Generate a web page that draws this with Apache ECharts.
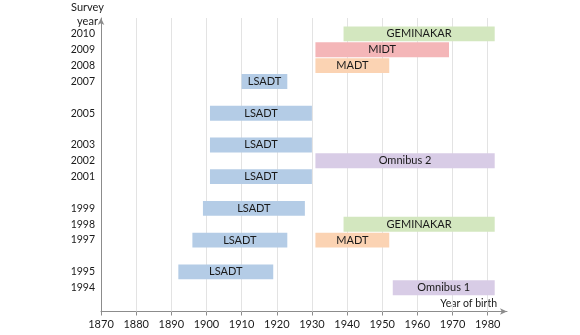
<!DOCTYPE html>
<html>
<head>
<meta charset="utf-8">
<script src="https://cdn.jsdelivr.net/npm/echarts@6/dist/echarts.min.js"></script>
<style>html,body{margin:0;padding:0;background:#fff}#c{width:580px;height:335px}</style>
</head>
<body>
<div id="c"></div>
<script>
// Survey year labels on the y axis
var surveyYearTicks = [2010, 2009, 2008, 2007, 2005, 2003, 2002, 2001, 1999, 1998, 1997, 1995, 1994];
// Birth year ticks on the x axis
var birthYearTicks = [1870, 1880, 1890, 1900, 1910, 1920, 1930, 1940, 1950, 1960, 1970, 1980];
var gridYears = [1880, 1890, 1900, 1910, 1920, 1930, 1940, 1950, 1960, 1970, 1980];

// One entry per survey bar
var study      = ['GEMINAKAR','MIDT','MADT','LSADT','LSADT','LSADT','Omnibus 2','LSADT','LSADT','GEMINAKAR','LSADT','MADT','LSADT','Omnibus 1'];
var surveyYear = [2010, 2009, 2008, 2007, 2005, 2003, 2002, 2001, 1999, 1998, 1997, 1997, 1995, 1994];
var birthFrom  = [1939, 1931, 1931, 1910, 1901, 1901, 1931, 1901, 1899, 1939, 1896, 1931, 1892, 1953];
var birthTo    = [1982, 1969, 1952, 1923, 1930, 1930, 1982, 1930, 1928, 1982, 1923, 1952, 1919, 1982];

var studyColor = {
  'LSADT': '#b4cce6',
  'GEMINAKAR': '#d3e7bf',
  'MIDT': '#f4b6b8',
  'MADT': '#fbd3b3',
  'Omnibus 1': '#d8cce6',
  'Omnibus 2': '#d8cce6'
};

var data = study.map(function (s, i) {
  return [birthFrom[i], birthTo[i], surveyYear[i], s];
});

var FONT = 'Lato';

function renderItem(params, api) {
  var a = api.coord([api.value(0), api.value(2)]);
  var b = api.coord([api.value(1), api.value(2)]);
  var h = api.size([0, 1])[1] * 0.94;
  var name = study[params.dataIndex];
  return {
    type: 'rect',
    shape: { x: a[0], y: a[1] - h / 2, width: b[0] - a[0], height: h },
    style: { fill: studyColor[name] },
    textContent: {
      style: { text: name, fill: '#1a1a1a', font: '11px ' + FONT }
    },
    textConfig: { position: 'inside' }
  };
}

var chart = echarts.init(document.getElementById('c'), null, { renderer: 'canvas' });
chart.setOption({
  animation: false,
  grid: { left: 101, right: 73, top: 18, bottom: 23.5, containLabel: false },
  xAxis: {
    type: 'value', min: 1870, max: 1985.5, interval: 10,
    name: 'Year of birth', nameLocation: 'end', nameGap: -10,
    nameTextStyle: { align: 'right', verticalAlign: 'bottom', padding: [0, 0, 2, 0], fontFamily: FONT, fontSize: 10.5, color: '#1a1a1a' },
    axisLine: { lineStyle: { color: '#8c8c8c' }, symbol: ['none', 'arrow'], symbolSize: [5, 7] },
    axisTick: { customValues: birthYearTicks, length: 4, lineStyle: { color: '#8c8c8c' } },
    axisLabel: { customValues: birthYearTicks, margin: 7, fontFamily: FONT, fontSize: 11, color: '#1a1a1a',
      formatter: function (v) { return String(v); } },
    splitLine: { show: false }
  },
  yAxis: {
    type: 'value', min: 1992.5, max: 2011,
    name: 'Survey\nyear', nameLocation: 'end', nameGap: -11,
    nameTextStyle: { align: 'center', verticalAlign: 'bottom', padding: [0, 27, 0, 0], lineHeight: 14, fontFamily: FONT, fontSize: 11, color: '#1a1a1a' },
    axisLine: { show: true, lineStyle: { color: '#8c8c8c' }, symbol: ['none', 'arrow'], symbolSize: [5, 7] },
    axisTick: { show: false },
    axisLabel: { customValues: surveyYearTicks, margin: 6, fontFamily: FONT, fontSize: 10.5, color: '#1a1a1a',
      formatter: function (v) { return String(v); } },
    splitLine: { show: false }
  },
  series: [{
    type: 'custom',
    renderItem: renderItem,
    encode: { x: [0, 1], y: 2 },
    data: data,
    z: 3,
    markLine: {
      silent: true, symbol: ['none', 'none'], label: { show: false },
      lineStyle: { type: 'solid', color: '#e3e3e3', width: 1 },
      z: 1,
      data: gridYears.map(function (y) { return { xAxis: y }; })
    }
  }]
});
</script>
</body>
</html>
